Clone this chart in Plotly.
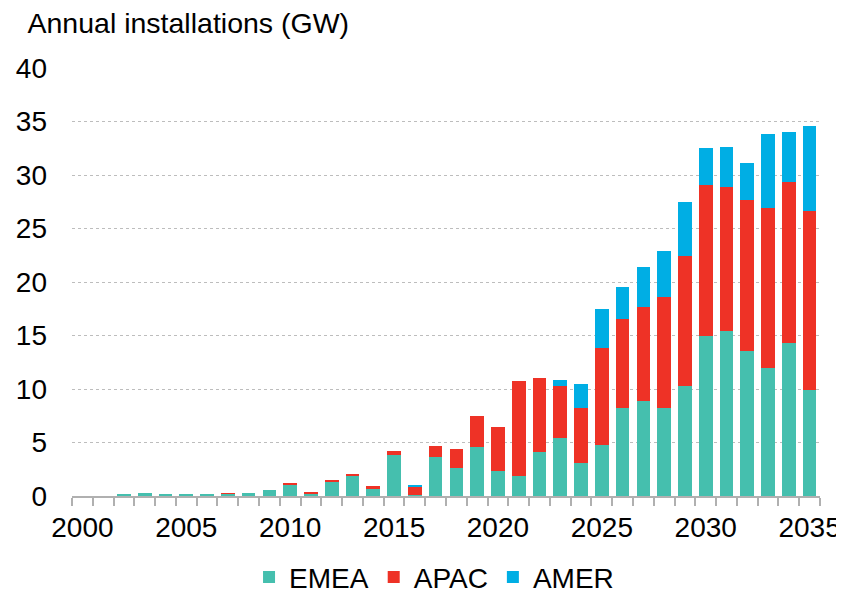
import plotly.graph_objects as go

years = list(range(2000, 2036))
emea = [0, 0, 0.15, 0.28, 0.12, 0.12, 0.10, 0.22, 0.30, 0.53,
        1.09, 0.25, 1.40, 1.92, 0.72, 3.86, 0.10, 3.60, 2.58, 4.60,
        2.36, 1.83, 4.14, 5.40, 3.12, 4.79, 8.18, 8.92, 8.21, 10.32,
        14.99, 15.42, 13.56, 11.94, 14.27, 9.92]
apac = [0, 0, 0, 0, 0, 0, 0, 0.05, 0, 0,
        0.15, 0.12, 0.11, 0.08, 0.18, 0.37, 0.80, 1.10, 1.84, 2.89,
        4.08, 8.93, 6.86, 4.91, 5.09, 9.01, 8.33, 8.77, 10.42, 12.07,
        14.05, 13.47, 14.11, 14.99, 15.11, 16.73]
amer = [0, 0, 0, 0, 0, 0, 0, 0, 0, 0,
        0, 0, 0, 0, 0, 0, 0.05, 0, 0, 0,
        0, 0, 0, 0.56, 2.24, 3.68, 3.05, 3.67, 4.26, 5.10,
        3.52, 3.70, 3.42, 6.93, 4.61, 7.93]
tick_years = [2000, 2005, 2010, 2015, 2020, 2025, 2030, 2035]
y_ticks = [0, 5, 10, 15, 20, 25, 30, 35, 40]

FONT = "Liberation Sans, Arial, sans-serif"
W, H = 836, 587   # page body adds an 8px offset
fig = go.Figure()
for name, vals, col in [("EMEA", emea, "#45BFAE"), ("APAC", apac, "#EE3226"), ("AMER", amer, "#00AEE4")]:
    fig.add_trace(go.Bar(x=years, y=vals, name=name, marker=dict(color=col, line=dict(width=0))))

fig.update_layout(
    barmode="stack",
    bargap=0.34,
    width=W, height=H,
    margin=dict(l=64.3, r=W - 811.7, t=59.5, b=H - 488.3, autoexpand=False),
    plot_bgcolor="white", paper_bgcolor="white",
    font=dict(family=FONT, size=28, color="#000000"),
    title=dict(text="Annual installations (GW)", x=19.5 / W, xref="container", xanchor="left",
               y=1 - 15.5 / H, yref="container", yanchor="middle",
               font=dict(family=FONT, size=28.5, color="#000000")),
    legend=dict(orientation="h", x=0.484, xanchor="center", y=-0.19, yanchor="middle",
                font=dict(family=FONT, size=28), traceorder="normal", itemwidth=30),
    showlegend=True,
)
fig.update_xaxes(
    range=[1999.5, 2035.5],
    tickmode="array", tickvals=tick_years, ticktext=[str(t) for t in tick_years],
    ticks="", showgrid=False, zeroline=False,
    showline=True, linecolor="#b0b0b0", linewidth=1.5,
    ticklabelstandoff=6,
    tickfont=dict(family=FONT, size=28),
    minor=dict(ticks="outside", tickmode="linear", tick0=1999.5, dtick=1,
               ticklen=8, tickcolor="#b0b0b0", tickwidth=1.5, showgrid=False),
)
fig.update_yaxes(
    range=[0, 40], tickmode="array", tickvals=y_ticks,
    showgrid=True, gridcolor="#bdbdbd", griddash="dot", gridwidth=1,
    zeroline=False, showline=False, ticks="",
    ticklabelstandoff=24,
    tickfont=dict(family=FONT, size=28),
)
fig.write_html("out.html")
